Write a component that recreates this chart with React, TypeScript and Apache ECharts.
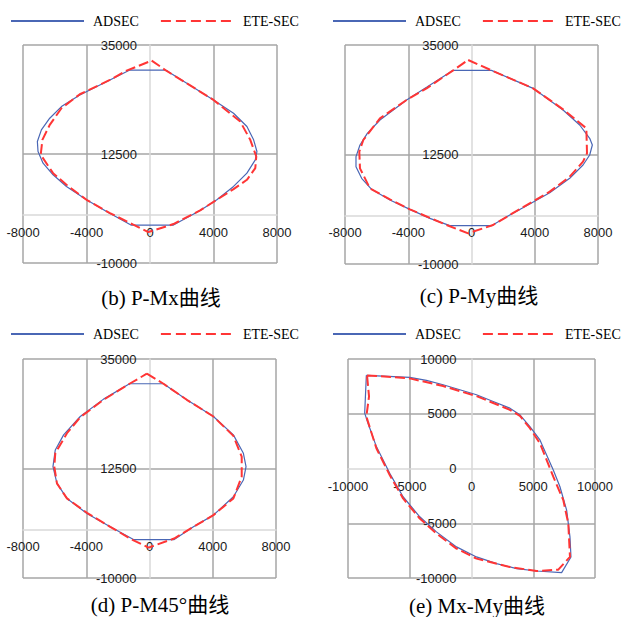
import React, { useEffect, useRef } from "react";
import * as echarts from "echarts";

const seriesNames = ["ADSEC", "ETE-SEC"];
const panelTitles = ["(b) P-Mx曲线", "(c) P-My曲线", "(d) P-M45°曲线", "(e) Mx-My曲线"];
const pmXTicks = [-8000, -4000, 0, 4000, 8000];
const pmYTicks = [-10000, 12500, 35000];
const mmTicks = [-10000, -5000, 0, 5000, 10000];

// (b) P-Mx : [M, P]
const adsecPMx = [
  [-1300, 29800], [1000, 29800], [2316, 27100], [4000, 23665], [5263, 20917], [6105, 18168],
  [6526, 15420], [6737, 13016], [6632, 11298], [6105, 8550], [5263, 5802], [4211, 3054],
  [3158, 856], [1474, -2167], [-1200, -2167], [-2737, 650], [-4000, 3054], [-5263, 5802],
  [-6105, 8207], [-6737, 10611], [-7053, 13016], [-7095, 15077], [-6842, 17481], [-6316, 19886],
  [-5579, 22290], [-4421, 24695], [-2526, 27787], [-1300, 29800],
];
const etePMx = [
  [105, 31771], [1053, 29641], [4000, 23665], [5684, 19199], [6316, 15420], [6695, 11985],
  [6632, 9581], [6105, 7176], [5263, 5252], [3158, 856], [1474, -1961], [-105, -3610],
  [-1053, -2098], [-2526, 306], [-4000, 3054], [-5263, 6145], [-6105, 8550], [-6884, 12329],
  [-6779, 15420], [-6316, 18512], [-5579, 21947], [-4421, 24832], [-2526, 27787], [-1474, 29710],
  [105, 31771],
];

// (c) P-My
const adsecPMy = [
  [-1158, 29795], [1263, 29795], [3895, 26096], [5789, 21644], [6842, 18562], [7474, 15822],
  [7642, 14452], [7474, 12397], [7053, 10342], [6211, 7603], [4947, 4658], [3684, 2329],
  [2421, 68], [1263, -2123], [-1368, -2123], [-2632, -616], [-3895, 1233], [-5158, 3151],
  [-6316, 5342], [-6947, 7603], [-7305, 10000], [-7305, 12055], [-7053, 14452], [-6589, 16849],
  [-5789, 19589], [-4105, 23699], [-2842, 26301], [-1158, 29795],
];
const etePMy = [
  [-211, 31918], [1263, 29795], [3895, 26096], [5789, 21781], [7263, 17877], [7305, 12740],
  [7053, 11027], [6211, 7945], [4947, 4863], [2421, 68], [1368, -1986], [-211, -3699],
  [-1579, -1986], [-3895, 1233], [-5158, 3288], [-6421, 5548], [-7053, 9658], [-7095, 13082],
  [-6842, 15479], [-5789, 19932], [-4105, 23699], [-2842, 26096], [-1158, 29795], [-211, 31918],
];

// (d) P-M45°
const adsecPM45 = [
  [-1263, 29916], [884, 29916], [2358, 26619], [4042, 23183], [5305, 19405], [5937, 15627],
  [6105, 12878], [5937, 10131], [5305, 6696], [4042, 2917], [2779, 513], [1558, -2098],
  [-1011, -2098], [-2484, 513], [-3958, 3260], [-5221, 6352], [-5853, 9444], [-6105, 12878],
  [-5958, 16313], [-5432, 19405], [-4379, 23183], [-2905, 26756], [-1263, 29916],
];
const etePM45 = [
  [-168, 31977], [884, 29916], [2358, 26619], [4042, 23183], [5305, 19199], [5832, 14940],
  [5832, 10818], [5305, 6352], [4042, 2917], [2779, 513], [1558, -1892], [-63, -3747],
  [-1116, -2098], [-2484, 513], [-3958, 3397], [-5221, 6352], [-5853, 9444], [-6021, 12878],
  [-5958, 15627], [-5221, 19748], [-4379, 23046], [-2905, 26619], [-1263, 29916], [-168, 31977],
];

// (e) Mx-My
const adsecMxMy = [
  [-8514, 8504], [-5000, 8321], [-3649, 8046], [-2297, 7649], [-946, 7191], [405, 6733],
  [1757, 6122], [3108, 5511], [3919, 4901], [4730, 3832], [5541, 2611], [6081, 1237],
  [6622, -137], [7162, -1664], [7703, -3802], [7973, -6244], [8054, -8076], [7297, -9511],
  [5270, -9359], [3649, -9145], [2027, -8687], [405, -8076], [-1216, -7160], [-2838, -5786],
  [-4189, -4412], [-5541, -2580], [-6622, -443], [-7703, 2000], [-8378, 4137], [-8649, 5053],
  [-8514, 8504],
];
const eteMxMy = [
  [-8459, 8504], [-5000, 8229], [-2297, 7527], [405, 6611], [3108, 5359], [3919, 4809],
  [4730, 3679], [5541, 2305], [6081, 779], [6622, -748], [7432, -2885], [7838, -5023],
  [7973, -8076], [7027, -9237], [5270, -9359], [3108, -8992], [405, -8229], [-1216, -7313],
  [-2838, -5939], [-4189, -4565], [-5541, -2733], [-6622, -595], [-7703, 1847], [-8514, 4748],
  [-8297, 6580], [-8459, 8504],
];

const adsecData = [adsecPMx, adsecPMy, adsecPM45, adsecMxMy];
const eteData = [etePMx, etePMy, etePM45, eteMxMy];

const grids = [
  { left: 23, top: 45, width: 254, height: 218 },
  { left: 345, top: 45, width: 253, height: 219 },
  { left: 23, top: 359, width: 253, height: 219 },
  { left: 348, top: 359, width: 247, height: 219 },
];
const legendPos = [
  { left: 10, top: 14 },
  { left: 332, top: 14 },
  { left: 10, top: 327 },
  { left: 332, top: 327 },
];
const titlePos = [
  [161, 298],
  [479, 296],
  [160, 605],
  [477, 606],
];

const BLUE = "#4a67b5";
const RED = "#ff3535";
const GRID = "#a6a6a6";
const ZERO = "#d9d9d9";
const labelStyle = {
  fontFamily: "Liberation Sans",
  fontSize: 13,
  color: "#1a1a1a",
  formatter: (v: number) => String(v),
};

export default function App() {
  const ref = useRef<HTMLDivElement>(null);
  useEffect(() => {
    if (!ref.current) return;
    const chart = echarts.init(ref.current, undefined, { renderer: "svg" });
    const xAxis: any[] = [];
    const yAxis: any[] = [];
    const series: any[] = [];
    for (let i = 0; i < 4; i++) {
      const isMM = i === 3;
      const g = grids[i];
      const xTicks = isMM ? mmTicks : pmXTicks;
      const yTicks = isMM ? mmTicks : pmYTicks;
      const xMin = xTicks[0];
      const xMax = xTicks[xTicks.length - 1];
      const yMin = yTicks[0];
      const yMax = yTicks[yTicks.length - 1];
      // place each axis through the origin of the other one
      const xOffset = -g.height * (0 - yMin) / (yMax - yMin);
      const yOffset = -g.width * (0 - xMin) / (xMax - xMin);
      xAxis.push({
        type: "value",
        gridIndex: i,
        min: xMin,
        max: xMax,
        interval: isMM ? 5000 : 4000,
        position: "bottom",
        offset: xOffset,
        axisLine: { show: true, onZero: false, lineStyle: { color: ZERO, width: 1.5 } },
        axisTick: { show: false, customValues: xTicks.filter((t) => t !== 0) },
        axisLabel: { ...labelStyle, margin: 11, customValues: xTicks, showMinLabel: true, showMaxLabel: true },
        splitLine: { show: true, lineStyle: { color: GRID, width: 1.5 } },
      });
      yAxis.push({
        type: "value",
        gridIndex: i,
        min: yMin,
        max: yMax,
        position: "left",
        offset: yOffset,
        axisLine: { show: true, onZero: false, lineStyle: { color: ZERO, width: 1.5 } },
        axisTick: { show: false, customValues: yTicks.filter((t) => t !== 0) },
        axisLabel: { ...labelStyle, margin: isMM ? 15 : 13, customValues: yTicks, showMinLabel: true, showMaxLabel: true },
        splitLine: { show: true, lineStyle: { color: GRID, width: 1.5 } },
      });
      series.push({
        name: seriesNames[0],
        type: "line",
        xAxisIndex: i,
        yAxisIndex: i,
        data: adsecData[i],
        symbol: "none",
        showSymbol: false,
        lineStyle: { color: BLUE, width: 1.2 },
        itemStyle: { color: BLUE },
        z: 3,
      });
      series.push({
        name: seriesNames[1],
        type: "line",
        xAxisIndex: i,
        yAxisIndex: i,
        data: eteData[i],
        symbol: "none",
        showSymbol: false,
        lineStyle: { color: RED, width: 2, type: [10, 4] },
        itemStyle: { color: RED },
        z: 4,
      });
    }
    const option: any = {
      animation: false,
      backgroundColor: "#ffffff",
      grid: grids.map((g) => ({ ...g, containLabel: false, outerBoundsMode: "none" })),
      xAxis,
      yAxis,
      series,
      legend: legendPos.map((p) => ({
        ...p,
        width: 330,
        padding: 0,
        data: [
          { name: seriesNames[0] },
          { name: seriesNames[1], lineStyle: { type: [10, 5] } },
        ],
        itemWidth: 73,
        itemHeight: 14,
        itemGap: 21,
        selectedMode: false,
        itemStyle: { color: "transparent", borderWidth: 0, opacity: 0 },
        textStyle: {
          fontFamily: "Liberation Serif",
          fontSize: 14,
          color: "#000",
          padding: [0, 0, 0, 4],
        },
      })),
      graphic: titlePos.map((p, i) => ({
        type: "text",
        x: p[0],
        y: p[1],
        style: {
          text: panelTitles[i],
          align: "center",
          verticalAlign: "middle",
          fontFamily: "Liberation Serif, Noto Sans CJK SC",
          fontSize: 21,
          fill: "#000",
        },
      })),
    };
    chart.setOption(option);
    return () => chart.dispose();
  }, []);
  return (
    <div
      ref={ref}
      style={{ position: "absolute", left: 0, top: 0, width: 622, height: 617 }}
    />
  );
}
